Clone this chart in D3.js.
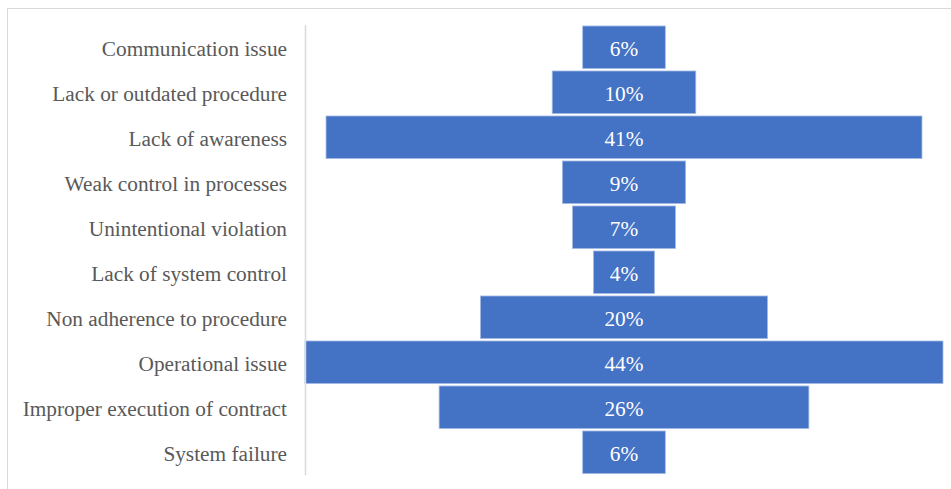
<!DOCTYPE html>
<html>
<head>
<meta charset="utf-8">
<script src="https://cdn.jsdelivr.net/npm/d3@7"></script>
<style>
  html, body { margin: 0; padding: 0; background: #ffffff; }
  svg { display: block; }
</style>
</head>
<body>
<svg id="chart" width="951" height="489"></svg>
<script>
const categories = [
  "Communication issue",
  "Lack or outdated procedure",
  "Lack of awareness",
  "Weak control in processes",
  "Unintentional violation",
  "Lack of system control",
  "Non adherence to procedure",
  "Operational issue",
  "Improper execution of contract",
  "System failure"
];
const values = [5.7, 9.9, 41.1, 8.5, 7.1, 4.2, 19.8, 44.0, 25.5, 5.7];

const W = 951, H = 489;
const plotLeft = 305, plotRight = 943, plotTop = 24.75, plotBottom = 474.75;
const cx = (plotLeft + plotRight) / 2;

const svg = d3.select("#chart");

// outer chart border
svg.append("rect")
  .attr("x", 7.5).attr("y", 8.5)
  .attr("width", 1000).attr("height", 1000)
  .attr("fill", "none").attr("stroke", "#d9d9d9").attr("stroke-width", 1);

const y = d3.scaleBand()
  .domain(categories)
  .range([plotTop, plotBottom])
  .paddingInner(0.055)
  .paddingOuter(0.0275);

const x = d3.scaleLinear()
  .domain([0, d3.max(values)])
  .range([0, plotRight - plotLeft]);

const data = categories.map((c, i) => ({ c, v: values[i] }));

svg.append("g")
  .selectAll("rect")
  .data(data)
  .join("rect")
  .attr("x", d => cx - x(d.v) / 2)
  .attr("y", d => y(d.c))
  .attr("width", d => x(d.v))
  .attr("height", y.bandwidth())
  .attr("fill", "#4472C4")
  .attr("stroke", "#a4bbe4")
  .attr("stroke-width", 0.8);

svg.append("g")
  .selectAll("text")
  .data(data)
  .join("text")
  .attr("x", cx)
  .attr("y", d => y(d.c) + y.bandwidth() / 2)
  .attr("dy", "0.4em")
  .attr("text-anchor", "middle")
  .attr("fill", "#ffffff")
  .style("font-family", "'Liberation Serif', 'Times New Roman', serif")
  .style("font-size", "21.3px")
  .text(d => Math.round(d.v) + "%");

const axis = svg.append("g")
  .attr("transform", `translate(${plotLeft},0)`)
  .call(d3.axisLeft(y).tickSizeInner(0).tickSizeOuter(0).tickPadding(18));
axis.select(".domain").attr("stroke", "#d9d9d9").attr("stroke-width", 1.5);
axis.selectAll("text")
  .attr("dy", "0.4em")
  .attr("fill", "#595959")
  .style("font-family", "'Liberation Serif', 'Times New Roman', serif")
  .style("font-size", "21.3px");
</script>
</body>
</html>
